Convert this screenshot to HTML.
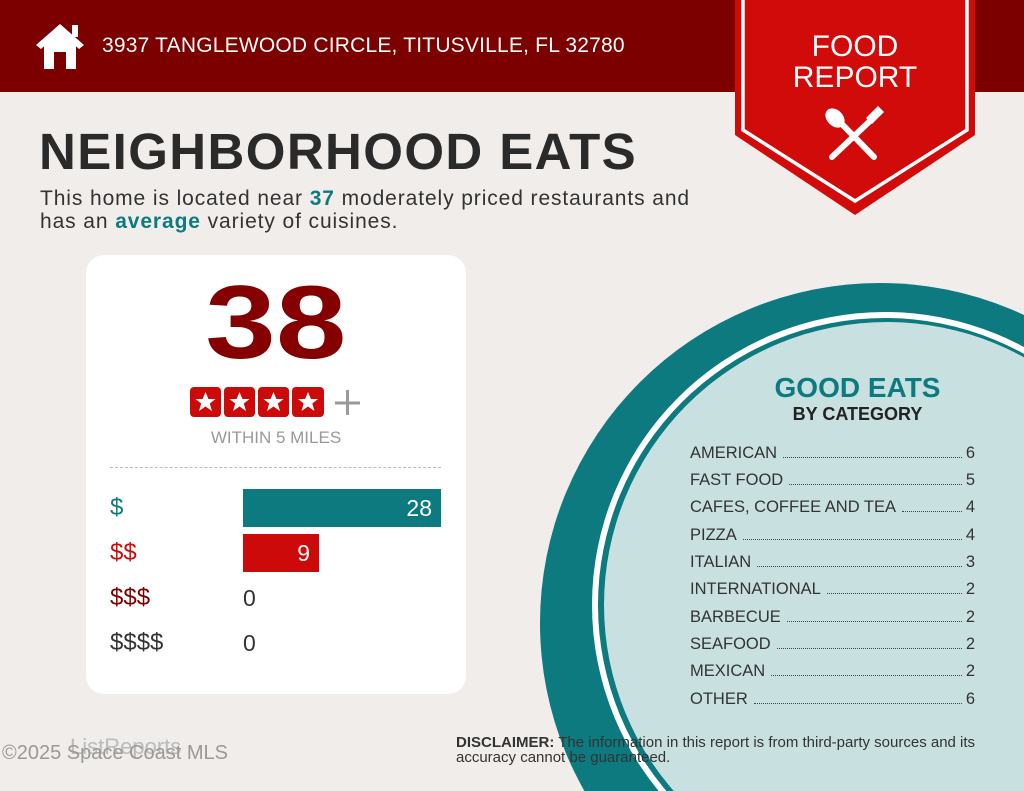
<!DOCTYPE html>
<html style="overflow:hidden"><head><meta charset="utf-8"><style>
*{margin:0;padding:0;box-sizing:border-box}
html,body{width:1024px;height:791px;overflow:hidden}
body{background:#f1edea;font-family:"Liberation Sans",sans-serif;position:relative}
.abs{position:absolute;white-space:nowrap}
.hdr{position:absolute;left:0;top:0;width:1024px;height:92px;background:#7c0000}
.card{position:absolute;left:86px;top:255px;width:380px;height:439px;background:#fff;border-radius:18px}
.row{position:absolute;left:690px;width:285px;font-size:16.5px;color:#333;display:flex;align-items:baseline}
.row .d{flex:1;border-bottom:1.5px dotted #444;margin:0 4px 4px 6px}
</style></head><body>
<div class="hdr"></div>
<svg class="abs" style="left:0;top:0" width="1024" height="791">
  <polygon points="36,45 60,24 84,45 79,49 60,32 41,49" fill="#fff"/>
  <rect x="72" y="25" width="6" height="12" fill="#fff"/>
  <path d="M44,44 L60,31 L76,44 L76,69 L66,69 L66,52 L54,52 L54,69 L44,69 Z" fill="#fff"/>
  <polygon points="735,0 975,0 975,135 855,215 735,135" fill="#d10a0a"/>
  <polyline points="743,0 743,130 855,201 967,130 967,0" fill="none" stroke="#fff" stroke-width="3.5"/>
  <line x1="836" y1="118" x2="874" y2="157" stroke="#fff" stroke-width="6" stroke-linecap="round"/>
  <ellipse cx="835" cy="118" rx="8" ry="11" transform="rotate(-45 835 118)" fill="#fff"/>
  <line x1="832" y1="157" x2="870" y2="121" stroke="#fff" stroke-width="6" stroke-linecap="round"/>
  <path d="M866,118 L878,106 L884,112 L872,124 Z" fill="#fff"/>
  <circle cx="880" cy="623" r="340" fill="#0d7a80"/>
  <circle cx="885" cy="605" r="293" fill="#fff"/>
  <circle cx="885" cy="605" r="287" fill="#0d7a80"/>
  <circle cx="887" cy="605" r="283" fill="#c8e0df"/>
</svg>
<div class="abs" style="left:102px;top:34px;font-size:21px;color:#fff;letter-spacing:0.2px">3937 TANGLEWOOD CIRCLE, TITUSVILLE, FL 32780</div>
<div class="abs" style="left:785px;top:31px;width:140px;text-align:center;font-size:30px;color:#fff;line-height:31px">FOOD<br>REPORT</div>
<div class="abs" style="left:39px;top:122px;font-size:51px;font-weight:bold;color:#2a2a2a;letter-spacing:1.4px">NEIGHBORHOOD EATS</div>
<div class="abs" style="left:40px;top:187px;font-size:21px;color:#333;line-height:23px;letter-spacing:0.9px">This home is located near <b style="color:#0d7a80">37</b> moderately priced restaurants and<br>has an <b style="color:#0d7a80">average</b> variety of cuisines.</div>
<div class="card"></div>
<div class="abs" style="left:86px;top:264px;width:380px;text-align:center;font-size:104px;font-weight:bold;color:#850000"><span style="display:inline-block;transform:scaleX(1.22)">38</span></div>
<svg class="abs" style="left:190px;top:387px" width="175" height="32">
  <g fill="#cc0a0a">
  <rect x="0" y="0" width="31" height="30" rx="4"/><rect x="34" y="0" width="31" height="30" rx="4"/><rect x="68" y="0" width="31" height="30" rx="4"/><rect x="102" y="0" width="32" height="30" rx="4"/></g>
  <g fill="#fff">
  <polygon id="s" points="15.5,5 18.4,12 25.5,12 19.8,16.5 22,24 15.5,19.5 9,24 11.2,16.5 5.5,12 12.6,12"/>
  <use href="#s" x="34"/><use href="#s" x="68"/><use href="#s" x="102.5"/></g>
  <path d="M145,16 h25 M157.5,3 v25" stroke="#999" stroke-width="3"/>
</svg>
<div class="abs" style="left:86px;top:428px;width:380px;text-align:center;font-size:17px;color:#999">WITHIN 5 MILES</div>
<div class="abs" style="left:110px;top:467px;width:331px;border-top:1.5px dashed #bbb"></div>
<div class="abs" style="left:243px;top:489px;width:198px;height:38px;background:#0d7a80"></div>
<div class="abs" style="left:243px;top:534px;width:76px;height:38px;background:#cc0a0a"></div>
<div class="abs" style="left:110px;top:494px;font-size:24px;color:#0d7a80">$</div>
<div class="abs" style="left:110px;top:539px;font-size:24px;color:#cc0a0a">$$</div>
<div class="abs" style="left:110px;top:584px;font-size:24px;color:#7c0000">$$$</div>
<div class="abs" style="left:110px;top:629px;font-size:24px;color:#333">$$$$</div>
<div class="abs" style="left:243px;top:495px;width:189px;text-align:right;font-size:23px;color:#fff">28</div>
<div class="abs" style="left:243px;top:540px;width:67px;text-align:right;font-size:23px;color:#fff">9</div>
<div class="abs" style="left:243px;top:585px;font-size:23px;color:#333">0</div>
<div class="abs" style="left:243px;top:630px;font-size:23px;color:#333">0</div>
<div class="abs" style="left:740px;top:372px;width:235px;text-align:center;font-size:28px;font-weight:bold;color:#0d7a80">GOOD EATS</div>
<div class="abs" style="left:740px;top:404px;width:235px;text-align:center;font-size:18px;font-weight:bold;color:#222">BY CATEGORY</div>
<div class="row" style="top:444px">AMERICAN<span class="d"></span>6</div>
<div class="row" style="top:471px">FAST FOOD<span class="d"></span>5</div>
<div class="row" style="top:498px">CAFES, COFFEE AND TEA<span class="d"></span>4</div>
<div class="row" style="top:526px">PIZZA<span class="d"></span>4</div>
<div class="row" style="top:553px">ITALIAN<span class="d"></span>3</div>
<div class="row" style="top:580px">INTERNATIONAL<span class="d"></span>2</div>
<div class="row" style="top:608px">BARBECUE<span class="d"></span>2</div>
<div class="row" style="top:635px">SEAFOOD<span class="d"></span>2</div>
<div class="row" style="top:662px">MEXICAN<span class="d"></span>2</div>
<div class="row" style="top:690px">OTHER<span class="d"></span>6</div>
<div class="abs" style="left:70px;top:734px;font-size:22px;color:#bbb">ListReports</div>
<div class="abs" style="left:2px;top:742px;font-size:20px;color:#999">©2025 Space Coast MLS</div>
<div class="abs" style="left:456px;top:735px;font-size:15px;color:#333;line-height:15px">
<b>DISCLAIMER:</b> The information in this report is from third-party sources and its<br>accuracy cannot be guaranteed.</div>
</body></html>
